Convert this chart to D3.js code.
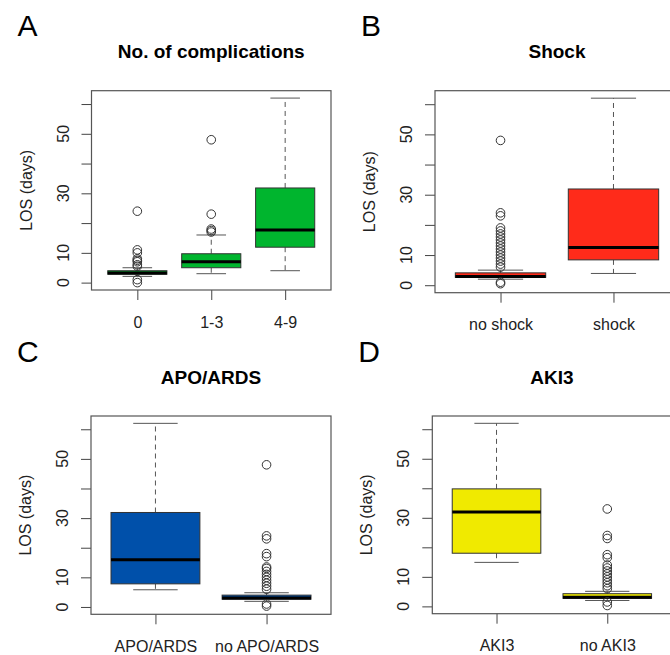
<!DOCTYPE html>
<html><head><meta charset="utf-8">
<script src="https://cdn.jsdelivr.net/npm/d3@7"></script>
<style>body{margin:0;background:#fff} svg{display:block}</style>
</head><body>
<svg id="c" width="670" height="655"></svg>
<script>
// ---------- data ----------
const yTickValues = [0, 10, 20, 30, 40, 50, 60];
const yTickLabels = [0, 10, 30, 50];
const yDomain = [-2.48, 64.48];
const yAxisTitle = "LOS (days)";

const panelLetters = ["A", "B", "C", "D"];
const panelTitles = ["No. of complications", "Shock", "APO/ARDS", "AKI3"];
const panelColors = ["#00b52e", "#ff2b1a", "#0050aa", "#f0ea00"];

// stats: [lower whisker, Q1, median, Q3, upper whisker]
const complicationsCategories = ["0", "1-3", "4-9"];
const complicationsStats = [[2.1, 2.8, 3.2, 4.0, 5.0], [3.0, 5.0, 7.0, 9.7, 16.0], [4.0, 11.9, 17.7, 31.8, 62.0]];
const complicationsOutliers = [[24, 11, 10, 8, 7.5, 7, 6, 5.5, 1, 0], [48, 23, 18, 17.5, 17], []];

const shockCategories = ["no shock", "shock"];
const shockStats = [[2.0, 2.6, 2.9, 4.1, 5.0], [3.9, 8.4, 12.5, 31.9, 62.0]];
const shockOutliers = [[48, 24, 23, 19, 18, 17, 16, 15, 14, 13, 12, 11, 10, 9, 8, 7, 6, 1, 0.5], []];

const apoCategories = ["APO/ARDS", "no APO/ARDS"];
const apoStats = [[5.8, 7.8, 15.9, 31.9, 62.0], [1.9, 2.6, 3.0, 4.0, 4.8]];
const apoOutliers = [[], [48, 24, 23, 18, 17, 13.5, 13, 12, 11, 10, 9, 8, 7, 6, 1, 0.3]];

const akiCategories = ["AKI3", "no AKI3"];
const akiStats = [[14.9, 18.0, 32.0, 39.8, 62.0], [2.0, 2.7, 3.1, 4.3, 5.1]];
const akiOutliers = [[], [33, 24, 23, 17.5, 16.5, 14, 13, 12, 11, 10, 9, 8, 7, 6, 1.5, 0.3]];

// ---------- layout ----------
const frames = [
  {left: 91.5, top: 90.7, right: 331, bottom: 290},
  {left: 435, top: 90.7, right: 679, bottom: 292.7},
  {left: 91, top: 416, right: 331, bottom: 614.3},
  {left: 432.3, top: 416, right: 671.5, bottom: 613.7}
];
const panelData = [
  {cats: complicationsCategories, stats: complicationsStats, outliers: complicationsOutliers},
  {cats: shockCategories, stats: shockStats, outliers: shockOutliers},
  {cats: apoCategories, stats: apoStats, outliers: apoOutliers},
  {cats: akiCategories, stats: akiStats, outliers: akiOutliers}
];

const FONT = "'Liberation Sans', Arial, Helvetica, sans-serif";
const svg = d3.select("#c").style("font-family", FONT);
svg.append("rect").attr("width", 670).attr("height", 655).attr("fill", "#fff");

panelData.forEach((pd, p) => {
  const f = frames[p];
  const n = pd.cats.length;
  const pad = 0.04 * n;
  const x = d3.scaleLinear().domain([0.5 - pad, n + 0.5 + pad]).range([f.left, f.right]);
  const y = d3.scaleLinear().domain(yDomain).range([f.bottom, f.top]);
  const g = svg.append("g");

  // panel letter
  g.append("text").attr("x", f.left - 74).attr("y", f.top - 54.5)
    .attr("font-size", 30).attr("fill", "#000").text(panelLetters[p]);
  // title
  g.append("text").attr("x", (f.left + f.right) / 2)
    .attr("y", f.top - 32.5).attr("text-anchor", "middle")
    .attr("font-size", 19).attr("font-weight", "bold").attr("fill", "#000").text(panelTitles[p]);

  // y axis ticks
  const ya = d3.axisLeft(y).tickValues(yTickValues).tickSize(10).tickFormat("");
  const yg = g.append("g").attr("transform", `translate(${f.left},0)`).call(ya);
  yg.select(".domain").remove();
  yg.selectAll(".tick line").attr("stroke", "#444").attr("stroke-width", 1);
  yTickLabels.forEach(v => {
    g.append("text").attr("transform", `translate(${f.left - 23},${y(v)}) rotate(-90)`)
      .attr("text-anchor", "middle").attr("font-size", 16).attr("fill", "#222").text(v);
  });
  g.append("text").attr("transform", `translate(${f.left - 60},${(f.top + f.bottom) / 2}) rotate(-90)`)
    .attr("text-anchor", "middle").attr("font-size", 16).attr("fill", "#222").text(yAxisTitle);

  // x axis
  const xa = d3.axisBottom(x).tickValues(d3.range(1, n + 1)).tickSize(10).tickFormat(i => pd.cats[i - 1]);
  const xg = g.append("g").attr("transform", `translate(0,${f.bottom})`).call(xa);
  xg.select(".domain").remove();
  xg.selectAll(".tick line").attr("stroke", "#444");
  xg.selectAll(".tick text").attr("y", 37.5).attr("dy", 0).attr("font-size", 16)
    .attr("font-family", FONT).attr("fill", "#222");

  // boxes
  const bw = 0.8;
  pd.stats.forEach((s, i) => {
    const c = i + 1;
    const x0 = x(c - bw / 2), x1 = x(c + bw / 2);
    const s0 = x(c - bw / 4), s1 = x(c + bw / 4);
    const xc = x(c);
    g.append("line").attr("x1", xc).attr("x2", xc).attr("y1", y(s[3])).attr("y2", y(s[4]))
      .attr("stroke", "#555").attr("stroke-dasharray", "5,4");
    g.append("line").attr("x1", xc).attr("x2", xc).attr("y1", y(s[1])).attr("y2", y(s[0]))
      .attr("stroke", "#555").attr("stroke-dasharray", "5,4");
    [s[0], s[4]].forEach(v => g.append("line").attr("x1", s0).attr("x2", s1)
      .attr("y1", y(v)).attr("y2", y(v)).attr("stroke", "#555"));
    g.append("rect").attr("x", x0).attr("y", y(s[3])).attr("width", x1 - x0)
      .attr("height", y(s[1]) - y(s[3])).attr("fill", panelColors[p]).attr("stroke", "#333");
    g.append("line").attr("x1", x0).attr("x2", x1).attr("y1", y(s[2])).attr("y2", y(s[2]))
      .attr("stroke", "#000").attr("stroke-width", 3);
    pd.outliers[i].forEach(v => g.append("circle").attr("cx", xc).attr("cy", y(v)).attr("r", 4.3)
      .attr("fill", "none").attr("stroke", "#333").attr("stroke-width", 1));
  });

  // frame
  g.append("rect").attr("x", f.left).attr("y", f.top).attr("width", f.right - f.left)
    .attr("height", f.bottom - f.top).attr("fill", "none").attr("stroke", "#555").attr("stroke-width", 1.2);
});
</script>
</body></html>
